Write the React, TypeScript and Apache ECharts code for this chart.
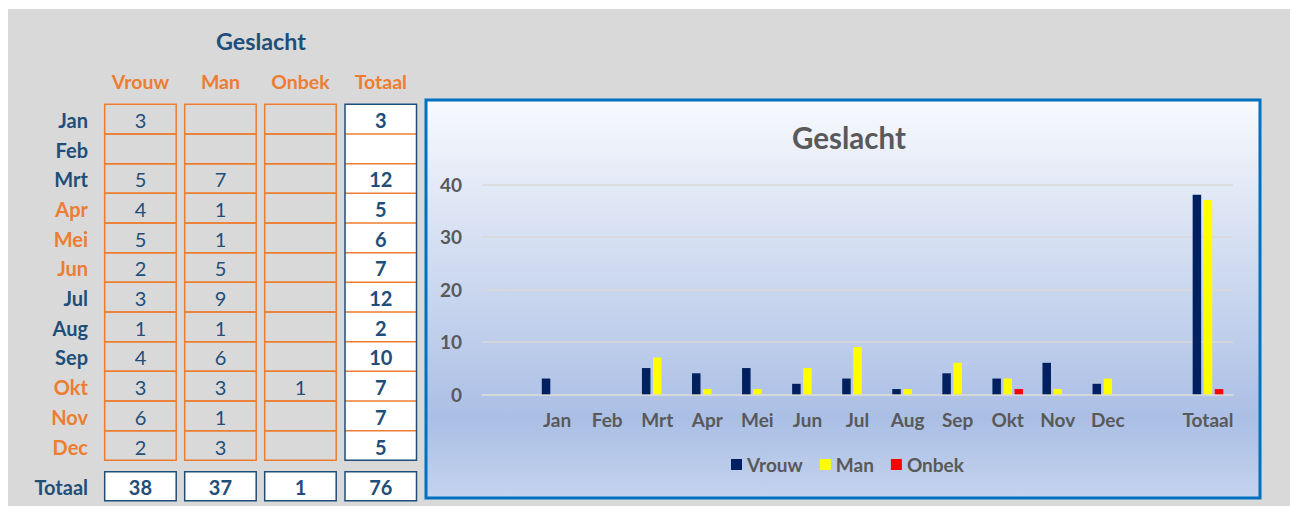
import React, { useEffect, useRef } from "react";
import * as echarts from "echarts";

const months = ["Jan", "Feb", "Mrt", "Apr", "Mei", "Jun", "Jul", "Aug", "Sep", "Okt", "Nov", "Dec"];
const orangeMonths = ["Apr", "Mei", "Jun", "Okt", "Nov", "Dec"];
const columnHeaders = ["Vrouw", "Man", "Onbek", "Totaal"];
const vrouw = [3, null, 5, 4, 5, 2, 3, 1, 4, 3, 6, 2];
const man = [null, null, 7, 1, 1, 5, 9, 1, 6, 3, 1, 3];
const onbek = [null, null, null, null, null, null, null, null, null, 1, null, null];
const totaalPerMaand = [3, null, 12, 5, 6, 7, 12, 2, 10, 7, 7, 5];
const totaalRij = [38, 37, 1, 76];
const chartCategories = ["", ...months, "", "Totaal"];
const tableTitle = "Geslacht";
const chartTitle = "Geslacht";

const FONT = "Lato";
const DARK = "#1F4E79";
const ORANGE = "#ED7D31";
const GRAY_TXT = "#595959";

export default function App() {
  const ref = useRef<HTMLDivElement>(null);
  useEffect(() => {
    if (!ref.current) return;
    const chart = echarts.init(ref.current, null, { renderer: "svg" });

    const colX = [104.7, 184.7, 264.7, 345];
    const colW = 71.5;
    const rowY0 = 104.3;
    const rowH = 29.67;
    const totRowY = 471.7;
    const totRowH = 29;
    const g: any[] = [];

    g.push({ type: "rect", z: -10, shape: { x: 0, y: 0, width: 1290, height: 506 }, style: { fill: "#ffffff" } });
    g.push({ type: "rect", z: -9, shape: { x: 8, y: 9, width: 1282, height: 497 }, style: { fill: "#D9D9D9" } });
    g.push({
      type: "rect", z: -8,
      shape: { x: 426, y: 100, width: 834, height: 398 },
      style: {
        fill: new echarts.graphic.LinearGradient(0, 0, 0, 1, [
          { offset: 0, color: "#F7F9FD" },
          { offset: 0.5, color: "#C8D5EE" },
          { offset: 0.8, color: "#ABBFE5" },
          { offset: 1, color: "#C4D3EE" },
        ]),
        stroke: "#0070C0",
        lineWidth: 3,
      },
    });

    const txt = (text: string, x: number, y: number, color: string, size: number, bold: boolean, align = "center") => ({
      type: "text", z: 5,
      style: {
        text, x, y, fill: color, fontSize: size, fontWeight: bold ? "bold" : "normal",
        fontFamily: FONT, textAlign: align, textVerticalAlign: "middle",
      },
    });

    g.push(txt(tableTitle, 261, 40.5, DARK, 23.3, true));
    columnHeaders.forEach((h, i) => g.push(txt(h, colX[i] + colW / 2, 81, ORANGE, 19.5, true)));

    const cols = [vrouw, man, onbek];
    months.forEach((m, r) => {
      const y = rowY0 + r * rowH;
      g.push(txt(m, 88, y + rowH / 2 + 1, orangeMonths.includes(m) ? ORANGE : DARK, 20, true, "right"));
      cols.forEach((c, ci) => {
        g.push({ type: "rect", z: 1, shape: { x: colX[ci], y, width: colW, height: rowH }, style: { fill: "none", stroke: ORANGE, lineWidth: 1.5 } });
        if (c[r] != null) g.push(txt(String(c[r]), colX[ci] + colW / 2, y + rowH / 2 + 1, DARK, 20, false));
      });
      if (totaalPerMaand[r] != null) g.push(txt(String(totaalPerMaand[r]), colX[3] + colW / 2, y + rowH / 2 + 1, DARK, 20, true));
    });
    // Totaal column
    g.push({ type: "rect", z: 0, shape: { x: colX[3], y: rowY0, width: colW, height: rowH * 12 }, style: { fill: "#ffffff" } });
    for (let r = 1; r < 12; r++) {
      const y = rowY0 + r * rowH;
      g.push({ type: "line", z: 1, shape: { x1: colX[3], y1: y, x2: colX[3] + colW, y2: y }, style: { stroke: ORANGE, lineWidth: 1.5 } });
    }
    g.push({ type: "rect", z: 2, shape: { x: colX[3], y: rowY0, width: colW, height: rowH * 12 }, style: { fill: "none", stroke: DARK, lineWidth: 1.5 } });

    // Totals row
    g.push(txt("Totaal", 88, totRowY + totRowH / 2 + 1, DARK, 20, true, "right"));
    totaalRij.forEach((v, i) => {
      g.push({ type: "rect", z: 1, shape: { x: colX[i], y: totRowY, width: colW, height: totRowH }, style: { fill: "#ffffff", stroke: DARK, lineWidth: 1.5 } });
      g.push(txt(String(v), colX[i] + colW / 2, totRowY + totRowH / 2 + 1, DARK, 20, true));
    });

    const seriesFor = (name: string, arr: (number | null)[], total: number, color: string) => ({
      name, type: "bar", data: [null, ...arr, null, total],
      barWidth: 8.5, barGap: "30%", itemStyle: { color },
    });

    chart.setOption({
      animation: false,
      textStyle: { fontFamily: FONT },
      title: {
        text: chartTitle, left: 844, top: 117, textAlign: "center",
        textStyle: { fontSize: 29.5, fontWeight: "bold", color: GRAY_TXT, fontFamily: FONT },
      },
      graphic: g,
      legend: {
        left: 731, top: 455, padding: 0, itemWidth: 11, itemHeight: 11, itemGap: 17,
        icon: "rect",
        textStyle: { fontSize: 19, fontWeight: "bold", color: GRAY_TXT, fontFamily: FONT, padding: [0, 0, 0, 0] },
        data: ["Vrouw", "Man", "Onbek"],
      },
      grid: { left: 482, width: 751, top: 184.3, height: 210, containLabel: false },
      xAxis: {
        type: "category", data: chartCategories,
        axisLine: { lineStyle: { color: "#D9D9D9", width: 1.5 } },
        axisTick: { show: false },
        axisLabel: { interval: 0, margin: 16, fontSize: 19, fontWeight: "bold", color: GRAY_TXT, fontFamily: FONT },
      },
      yAxis: {
        type: "value", min: 0, max: 40, interval: 10,
        axisLine: { show: false }, axisTick: { show: false },
        axisLabel: { margin: 20, fontSize: 19, fontWeight: "bold", color: GRAY_TXT, fontFamily: FONT },
        splitLine: { lineStyle: { color: "#D9D9D9", width: 1.5 } },
      },
      series: [
        seriesFor("Vrouw", vrouw, totaalRij[0], "#002060"),
        seriesFor("Man", man, totaalRij[1], "#FFFF00"),
        seriesFor("Onbek", onbek, totaalRij[2], "#FF0000"),
      ],
    });
    return () => chart.dispose();
  }, []);
  return <div ref={ref} style={{ position: "absolute", left: 0, top: 0, width: 1290, height: 506 }} />;
}
